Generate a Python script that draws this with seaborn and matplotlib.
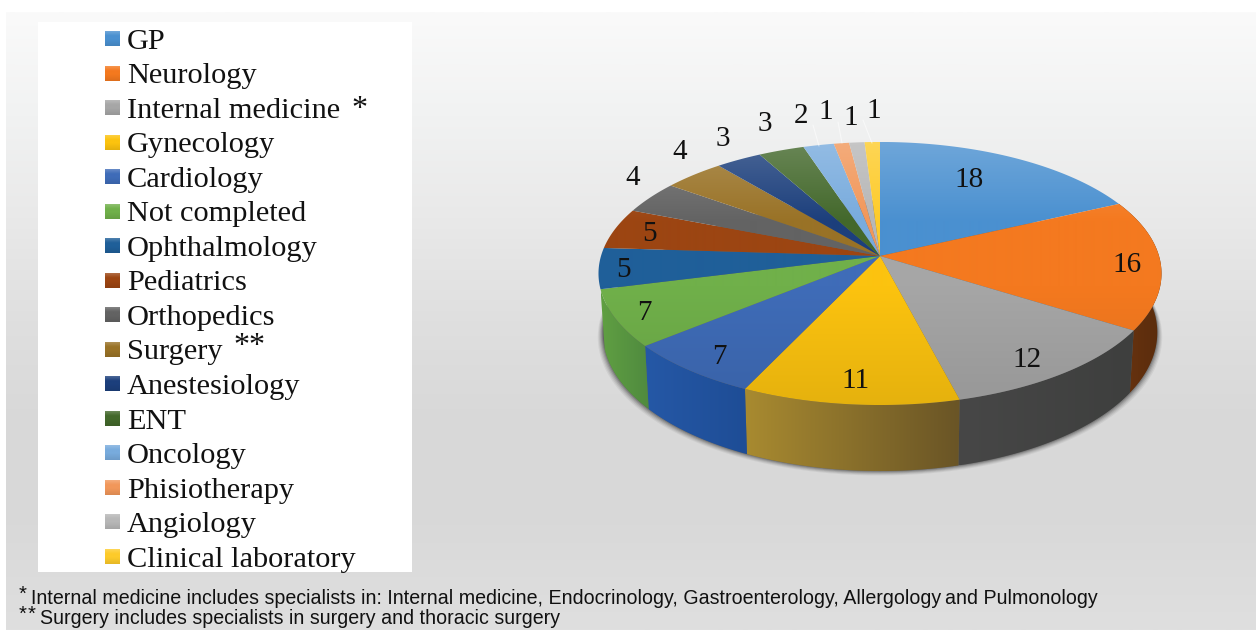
import numpy as np
import matplotlib
matplotlib.use("Agg")
import matplotlib.pyplot as plt
from matplotlib.patches import Polygon, Rectangle
import seaborn as sns

# Survey data: specialty of respondents
categories = ["GP", "Neurology", "Internal medicine", "Gynecology", "Cardiology",
              "Not completed", "Ophthalmology", "Pediatrics", "Orthopedics", "Surgery",
              "Anestesiology", "ENT", "Oncology", "Phisiotherapy", "Angiology",
              "Clinical laboratory"]
values = [18, 16, 12, 11, 7, 7, 5, 5, 4, 4, 3, 3, 2, 1, 1, 1]
top_colors = ["#4a90d0", "#f4791f", "#a6a6a6", "#fcc30f", "#3f6cb8", "#70b04a",
              "#1f5f99", "#9c4512", "#636363", "#997226", "#1c3f7c", "#43682b",
              "#78abdd", "#f1975a", "#b7b7b7", "#fdcb2a"]
# Wall colours of the slices facing the viewer, left and right end of each wall
wall_left = {1: "#6a3410", 2: "#474747", 3: "#a88a30", 4: "#2558a6", 5: "#609f42"}
wall_right = {1: "#5a2c0c", 2: "#3e3f3e", 3: "#6a5526", 4: "#1e4d96", 5: "#4f8a3f"}
footnote_one = "Internal medicine includes specialists in: Internal medicine, Endocrinology, " \
               "Gastroenterology, Allergology"
footnote_one_tail = "and Pulmonology"
footnote_two = "Surgery includes specialists in surgery and thoracic surgery"

# Layout in pixel units
W, H = 1256, 630
CX, CY, RX, RY, PERSP = 880.0, 256.0, 279.0, 129.2, 0.133
TOP, BOTTOM, LEFT, RIGHT = 142, 406, 596, 1162
LABEL_POS = [(969, 180), (1127, 265), (1027, 360), (856, 381), (719, 357), (644, 313),
             (623, 270), (650, 234), (633, 178), (680, 152), (723, 139), (765, 124),
             (801, 116), (826, 112), (851, 118), (874, 111)]
LEADERS = [(813, 125, 819, 146), (838, 122, 842, 143), (863, 120, 872, 143)]

sns.set_theme(style="white")
plt.rcParams["font.family"] = ["Liberation Serif", "DejaVu Serif"]


def rim(frac, r=1.0):
    """Project a pie fraction (clockwise from 12 o'clock) onto the tilted top disc."""
    a = 2 * np.pi * np.asarray(frac)
    px, py = r * np.sin(a), r * np.cos(a)
    d = 1 + PERSP * py
    return CX + RX * px / d, CY - RY * py / d


def lower_rim(frac):
    x, y = rim(frac)
    py = np.cos(2 * np.pi * np.asarray(frac))
    return CX + (x - CX) * 0.985, y + 58 + 8 * np.clip(-py, 0, 1)


def shaded(color, n=264):
    """Vertical shading of the top face: a light sheen at the back, darker at the front."""
    base = np.array(color)
    y = np.linspace(0, 1, n)
    white = np.interp(y, [0, 0.3, 1], [0.2, 0.0, 0.0])[:, None]
    black = np.interp(y, [0, 0.55, 1], [0.0, 0.0, 0.09])[:, None]
    return (base * (1 - white) + white) * (1 - black)


fig = plt.figure(figsize=(W / 100, H / 100), dpi=100, facecolor="white")
ax = fig.add_axes([0, 0, 1, 1])
ax.set_axis_off()

# Backdrop gradient
stops = ["#fafafa", "#f1f2f2", "#e9e9e9", "#dfdfdf", "#d8d8d8", "#d9d9d9", "#dfdfdf"]
backdrop = np.array(sns.blend_palette(stops, n_colors=256))[:, None, :]
ax.imshow(backdrop, extent=(6, W, H, 12), aspect="auto", interpolation="bilinear", zorder=0)

# Legend panel
ax.add_patch(Rectangle((38, 22), 374, 550, facecolor="white", edgecolor="none", zorder=1))
top_rgb = sns.color_palette(top_colors)
for i, name in enumerate(categories):
    yc = 38.5 + 34.53 * i
    ax.imshow(shaded(top_rgb[i], 16)[:, None, :], extent=(105, 120, yc + 7.5, yc - 7.5),
              aspect="auto", interpolation="bilinear", zorder=2)
    ax.text(127, yc + 10.2, name, fontsize=21.9, color="#111111", va="baseline", zorder=3)
ax.text(351, 117, "*", fontsize=23, color="#111111", va="baseline", zorder=3)
ax.text(233, 354, "**", fontsize=23, color="#111111", va="baseline", zorder=3)

# Pie geometry derived from the data
shares = np.array(values, dtype=float) / sum(values)
edges = np.concatenate([[0], np.cumsum(shares)])

# Soft drop shadow under the disc
ring = np.linspace(0, 1, 361)
lx, ly = lower_rim(ring)
for grow, alpha in zip([5, 4, 3, 2, 1, 0], [0.05, 0.07, 0.09, 0.12, 0.16, 0.22]):
    ax.add_patch(Polygon(np.column_stack([CX + (lx - CX) * (1 + grow / 280), ly + grow * 0.9]),
                         closed=True, facecolor="black", alpha=alpha, edgecolor="none", zorder=3))

# Outer walls of the slices facing the viewer, then the top faces over them
for i in wall_left:
    f = np.linspace(edges[i], edges[i + 1], 80)
    ux, uy = rim(f)
    bx, by = lower_rim(f)
    verts = np.column_stack([np.r_[ux, bx[::-1]], np.r_[uy, by[::-1]]])
    xmin, xmax = verts[:, 0].min(), verts[:, 0].max()
    ymin, ymax = verts[:, 1].min(), verts[:, 1].max()
    ramp = np.array(sns.blend_palette([wall_left[i], wall_right[i]], n_colors=64))[None, :, :]
    im = ax.imshow(ramp, extent=(xmin, xmax, ymax, ymin), aspect="auto",
                   interpolation="bilinear", zorder=4)
    im.set_clip_path(Polygon(verts, closed=True, transform=ax.transData))

for i in range(len(values)):
    f = np.linspace(edges[i], edges[i + 1], 120)
    ux, uy = rim(f)
    verts = np.column_stack([np.r_[CX, ux], np.r_[CY, uy]])
    im = ax.imshow(shaded(top_rgb[i])[:, None, :], extent=(LEFT, RIGHT, BOTTOM, TOP),
                   aspect="auto", interpolation="bilinear", zorder=5)
    im.set_clip_path(Polygon(verts, closed=True, transform=ax.transData))

# Leader lines of the smallest slices
for x0, y0, x1, y1 in LEADERS:
    ax.plot([x0, x1], [y0, y1], color="white", lw=0.8, alpha=0.55, zorder=6)

# Value labels
for v, (x, y) in zip(values, LABEL_POS):
    ax.text(x, y, str(v), fontsize=21, color="#111111", ha="center", va="center", zorder=7)

# Footnotes
sans = ["Liberation Sans", "DejaVu Sans"]
ax.text(19, 600, "*", fontsize=14.5, family=sans, color="#111111", va="baseline", zorder=3)
ax.text(31, 604, footnote_one, fontsize=14.12, family=sans, color="#111111", va="baseline", zorder=3)
ax.text(945, 604, footnote_one_tail, fontsize=14.12, family=sans, color="#111111", va="baseline", zorder=3)
ax.text(19, 620, "*", fontsize=14.5, family=sans, color="#111111", va="baseline", zorder=3)
ax.text(28, 620, "*", fontsize=14.5, family=sans, color="#111111", va="baseline", zorder=3)
ax.text(40, 624, footnote_two, fontsize=14.14, family=sans, color="#111111", va="baseline", zorder=3)

ax.set_xlim(0, W)
ax.set_ylim(H, 0)
fig.savefig("out.png", dpi=100, facecolor="white")
